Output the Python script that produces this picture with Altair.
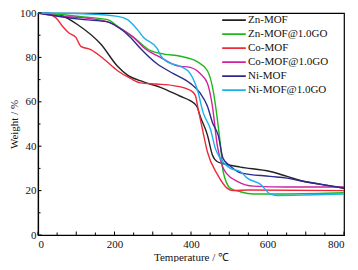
import altair as alt
import pandas as pd

series = ["Zn-MOF", "Zn-MOF@1.0GO", "Co-MOF", "Co-MOF@1.0GO", "Ni-MOF", "Ni-MOF@1.0GO"]
colors = ["#222222", "#1db81d", "#ee2a3a", "#d020a0", "#2b2b8f", "#1ab2ee"]

zn_t = [0, 40, 60, 104, 164, 208, 234, 276, 320, 372, 398, 415, 425, 443, 456, 469, 495, 529, 607, 651, 693, 737, 800]
zn_w = [100, 99.7, 99, 94.7, 86, 76, 72, 69, 66.5, 62.5, 60.5, 58, 53, 45, 36, 33, 31.7, 30.6, 28.6, 26.4, 24.2, 22.9, 21]

zngo_t = [0, 60, 120, 182, 208, 250, 294, 330, 372, 417, 443, 458, 469, 477, 484, 503, 529, 563, 650, 800]
zngo_w = [100, 99.3, 98.2, 97, 94, 89, 83, 81.5, 80.5, 78, 74, 65, 52, 40.5, 28.6, 21, 19.5, 18.5, 18.5, 19]

co_t = [0, 16, 47, 65, 81, 99, 112, 138, 172, 208, 242, 268, 310, 354, 398, 411, 419, 430, 443, 469, 495, 510, 550, 800]
co_w = [100, 100, 97.8, 93.8, 91, 89, 85, 83.5, 79.3, 74, 70.5, 68.5, 68, 67.3, 65.2, 63, 56.5, 47.6, 37.4, 27.3, 21, 20, 20.3, 20]

cogo_t = [0, 60, 120, 182, 208, 250, 276, 320, 364, 398, 424, 443, 456, 469, 482, 495, 521, 563, 650, 800]
cogo_w = [100, 98.5, 97.8, 96, 93.8, 89, 84.5, 80, 76.2, 75.5, 72.7, 68.3, 58, 40, 31, 27.3, 24.2, 22, 21.6, 21.6]

ni_t = [0, 60, 120, 182, 208, 242, 268, 312, 354, 398, 424, 443, 456, 471, 484, 503, 529, 607, 651, 693, 800]
ni_w = [100, 98.3, 97, 96, 93.8, 89, 84, 77, 72.7, 68.3, 63.9, 58, 50.7, 45, 34.4, 31, 28, 26.4, 25.6, 24.2, 21.2]

nigo_t = [0, 100, 208, 234, 260, 276, 312, 320, 338, 372, 398, 417, 432, 451, 464, 477, 503, 529, 547, 581, 607, 625, 700, 800]
nigo_w = [100, 99.8, 98.5, 97, 92.5, 89, 84, 81, 78, 76, 72.7, 65.2, 55, 47.6, 38.8, 34.4, 30, 28.6, 25.6, 22.9, 18.5, 17.8, 18, 18.5]

x_major = [0, 100, 200, 300, 400, 500, 600, 700, 800]
x_minor = [50, 150, 250, 350, 450, 550, 650, 750]
y_major = [0, 20, 40, 60, 80, 100]
y_minor = [10, 30, 50, 70, 90]

rows = []
for name, ts, ws in zip(series, [zn_t, zngo_t, co_t, cogo_t, ni_t, nigo_t],
                        [zn_w, zngo_w, co_w, cogo_w, ni_w, nigo_w]):
    for t, w in zip(ts, ws):
        rows.append({"series": name, "T": t, "W": w})
df = pd.DataFrame(rows)

W, H = 306, 222
FONT = "Liberation Serif"

xs = alt.Scale(domain=[0, 800], nice=False)
ys = alt.Scale(domain=[0, 100], nice=False)

lines = alt.Chart(df).mark_line(strokeWidth=1.4, interpolate="monotone").encode(
    x=alt.X("T:Q", scale=xs, title="Temperature / \u2103",
            axis=alt.Axis(values=x_major, ticks=False, labelPadding=3, titlePadding=2,
                          format="d")),
    y=alt.Y("W:Q", scale=ys, title="Weight / %",
            axis=alt.Axis(values=y_major, ticks=False, labelPadding=2, titlePadding=0,
                          format="d")),
    color=alt.Color("series:N", sort=series,
                    scale=alt.Scale(domain=series, range=colors),
                    legend=alt.Legend(title=None, orient="none", legendX=183, legendY=0.5,
                                      symbolType="stroke", symbolSize=560,
                                      symbolStrokeWidth=1.8, labelFontSize=11,
                                      labelFont=FONT, labelColor="#111",
                                      labelOffset=1, rowPadding=0, clipHeight=13.4,
                                      padding=0)),
)

xmaj = alt.Chart(pd.DataFrame({"T": x_major})).mark_rule(color="black", strokeWidth=1).encode(
    x=alt.X("T:Q", scale=xs), y=alt.value(H), y2=alt.value(H - 3.5))
xmin = alt.Chart(pd.DataFrame({"T": x_minor})).mark_rule(color="black", strokeWidth=1).encode(
    x=alt.X("T:Q", scale=xs), y=alt.value(H), y2=alt.value(H - 2.5))
ymaj = alt.Chart(pd.DataFrame({"W": y_major})).mark_rule(color="black", strokeWidth=1).encode(
    y=alt.Y("W:Q", scale=ys), x=alt.value(0), x2=alt.value(3.5))
ymin = alt.Chart(pd.DataFrame({"W": y_minor})).mark_rule(color="black", strokeWidth=1).encode(
    y=alt.Y("W:Q", scale=ys), x=alt.value(0), x2=alt.value(2.5))

chart = alt.layer(lines, xmaj, xmin, ymaj, ymin).properties(
    width=W, height=H,
    background="white",
    autosize=alt.AutoSizeParams(type="none"),
    padding={"left": 30, "top": 5, "right": 6, "bottom": 27},
).configure_view(stroke="black", strokeWidth=1.2).configure_axis(
    grid=False, domainColor="black", domainWidth=1.2,
    labelFont=FONT, labelFontSize=11, labelColor="#111",
    titleFont=FONT, titleFontSize=11, titleColor="#111", titleFontWeight="normal",
)

chart.save("out.html", embed_options={"renderer": "svg", "actions": False})
